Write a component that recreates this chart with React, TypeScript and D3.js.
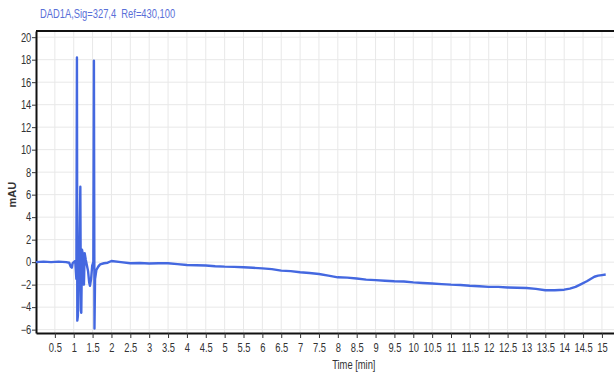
import * as d3 from "d3";
import { useEffect, useRef } from "react";

// время (мин) и сигнал (mAU)
const timeMin = [
  0, 0.2, 0.4, 0.6, 0.8, 0.88, 0.92, 0.95, 0.97, 1.0, 1.04, 1.07, 1.085, 1.095, 1.11, 1.13, 1.15, 1.175,
  1.19, 1.2, 1.22, 1.25, 1.27, 1.29, 1.32, 1.35, 1.38, 1.41, 1.43, 1.46, 1.49, 1.52, 1.535, 1.55, 1.565,
  1.6, 1.65, 1.7, 1.8, 1.9, 2.0, 2.25, 2.5, 2.75, 3.0, 3.25, 3.5, 3.75, 4.0, 4.25, 4.5, 4.75, 5.0, 5.25,
  5.5, 5.75, 6.0, 6.25, 6.5, 6.75, 7.0, 7.25, 7.5, 7.75, 8.0, 8.25, 8.5, 8.75, 9.0, 9.25, 9.5, 9.75, 10.0,
  10.25, 10.5, 10.75, 11.0, 11.25, 11.5, 11.75, 12.0, 12.25, 12.5, 12.75, 13.0, 13.25, 13.5, 13.75, 14.0,
  14.15, 14.3, 14.45, 14.6, 14.7, 14.8, 14.9, 15.0, 15.1,
];
const signal = [
  0.0, 0.05, 0.0, 0.05, 0.0, -0.05, -0.4, -0.5, -0.1, 0.0, 0.1, -1.5, 18.2, -5.2, -4.8, -1.5, 1.0, 6.7,
  -4.3, -4.5, 1.1, 0.5, -2.0, 0.8, 0.2, -0.3, -0.8, -1.8, -2.1, -1.5, -0.3, 0.0, 17.9, -5.9, -1.5,
  -0.7, -0.4, -0.2, -0.1, -0.05, 0.1, 0.0, -0.1, -0.08, -0.12, -0.1, -0.1, -0.18, -0.25, -0.27, -0.3, -0.36, -0.4, -0.42,
  -0.45, -0.5, -0.55, -0.62, -0.75, -0.8, -0.9, -0.97, -1.05, -1.2, -1.35, -1.38, -1.45, -1.55, -1.6, -1.65, -1.7, -1.72, -1.8,
  -1.85, -1.9, -1.95, -2.0, -2.03, -2.1, -2.15, -2.2, -2.2, -2.25, -2.28, -2.3, -2.38, -2.5, -2.5, -2.45,
  -2.35, -2.2, -1.95, -1.7, -1.5, -1.3, -1.2, -1.15, -1.1,
];

const xTicks = d3.range(1, 31).map((i) => i / 2); // 0.5 ... 15
const yTicks = [-6, -4, -2, 0, 2, 4, 6, 8, 10, 12, 14, 16, 18, 20];

const W = 614;
const H = 372;
const margin = { top: 31, right: 0, bottom: 39, left: 36 };
const font = "Arimo, 'Liberation Sans', Arial, sans-serif";
const squeeze = 0.78; // узкий шрифт, как Arial Narrow

const App = () => {
  const chartRef = useRef<SVGSVGElement>(null);

  useEffect(() => {
    const svg = d3.select(chartRef.current);
    svg.selectAll("*").remove();

    const innerW = W - margin.left - margin.right;
    const innerH = H - margin.top - margin.bottom;

    const scaleX = d3.scaleLinear().domain([0, 15.32]).range([0, innerW]);
    const scaleY = d3.scaleLinear().domain([-6.3, 20.55]).range([innerH, 0]);

    const g = svg.append("g").attr("transform", `translate(${margin.left}, ${margin.top})`);

    // сетка
    g.selectAll(".vgrid")
      .data(xTicks)
      .enter()
      .append("line")
      .attr("x1", (d) => scaleX(d))
      .attr("x2", (d) => scaleX(d))
      .attr("y1", 0)
      .attr("y2", innerH)
      .style("stroke", "#e8e8e8")
      .style("stroke-width", 1);

    g.selectAll(".hgrid")
      .data(yTicks)
      .enter()
      .append("line")
      .attr("x1", 0)
      .attr("x2", innerW)
      .attr("y1", (d) => scaleY(d))
      .attr("y2", (d) => scaleY(d))
      .style("stroke", "#e8e8e8")
      .style("stroke-width", 1);

    // оси
    const xAxis = d3.axisBottom(scaleX).tickValues(xTicks).tickSize(5).tickSizeOuter(0).tickFormat(d3.format("~g"));
    const gx = g.append("g").attr("transform", `translate(0, ${innerH})`).call(xAxis);
    gx.select(".domain").style("stroke", "#111").style("stroke-width", 2);
    gx.selectAll(".tick line").style("stroke", "#333");
    gx.selectAll("text")
      .style("font-family", font)
      .style("font-size", "12px")
      .style("fill", "#333")
      .attr("y", 9)
      .attr("dy", "0.8em")
      .attr("transform", `scale(${squeeze}, 1)`);

    const yAxis = d3.axisLeft(scaleY).tickValues(yTicks).tickSize(4).tickSizeOuter(0);
    const gy = g.append("g").call(yAxis);
    gy.select(".domain").style("stroke", "#111").style("stroke-width", 2);
    gy.selectAll(".tick line").style("stroke", "#333");
    gy.selectAll("text")
      .style("font-family", font)
      .style("font-size", "12px")
      .style("fill", "#333")
      .attr("x", -6)
      .attr("transform", `scale(${squeeze}, 1)`);

    // верхняя рамка
    g.append("line")
      .attr("x1", 0)
      .attr("x2", innerW)
      .attr("y1", 0)
      .attr("y2", 0)
      .style("stroke", "#111")
      .style("stroke-width", 2);

    // кривая
    const line = d3
      .line<number>()
      .x((d, i) => scaleX(timeMin[i]))
      .y((d) => scaleY(d));

    g.append("path")
      .datum(signal)
      .attr("d", line)
      .style("fill", "none")
      .style("stroke", "#4468e0")
      .style("stroke-width", 2.4)
      .style("stroke-linejoin", "round");

    // подписи
    svg.append("text")
      .attr("transform", `translate(40, 18) scale(${squeeze}, 1)`)
      .text("DAD1A,Sig=327,4  Ref=430,100")
      .style("font-family", font)
      .style("font-size", "12px")
      .style("fill", "#5a70d8")
      .style("white-space", "pre");

    svg.append("text")
      .attr("transform", `translate(16, ${margin.top + scaleY(6)}) rotate(-90)`)
      .attr("text-anchor", "middle")
      .text("mAU")
      .style("font-family", font)
      .style("font-size", "11px")
      .style("font-weight", "bold")
      .style("fill", "#333");

    svg.append("text")
      .attr("transform", `translate(${margin.left + scaleX(7.85)}, 369) scale(${squeeze}, 1)`)
      .text("Time [min]")
      .style("font-family", font)
      .style("font-size", "12px")
      .style("fill", "#333");
  }, []);

  return (
    <svg ref={chartRef} width={W} height={H} style={{ position: "absolute", left: 0, top: 0, background: "#fff" }}></svg>
  );
};

export default App;
